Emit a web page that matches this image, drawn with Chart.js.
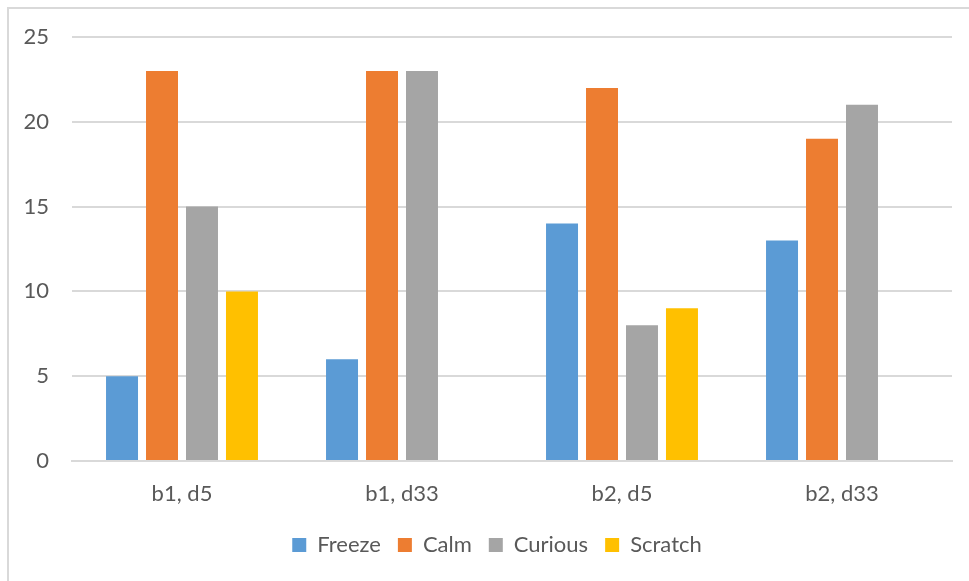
<!DOCTYPE html>
<html>
<head>
<meta charset="utf-8">
<script src="https://cdn.jsdelivr.net/npm/chart.js@4"></script>
<style>
  html, body { margin: 0; padding: 0; background: #fff; overflow: hidden; }
  #frame { position: absolute; left: 7px; top: 7px; width: 1000px; height: 640px; border: 2px solid #d9d9d9; box-sizing: border-box; }
  #grafico { position: absolute; left: 0; top: 0; }
</style>
</head>
<body>
<div id="frame"></div>
<canvas id="grafico" width="969" height="581"></canvas>
<script>
const ctx = document.getElementById('grafico');

const categories = ['b1, d5', 'b1, d33', 'b2, d5', 'b2, d33'];
const freeze = [5, 6, 14, 13];
const calm = [23, 23, 22, 19];
const curious = [15, 23, 8, 21];
const scratch = [10, 0, 9, 0];
const yTicks = [0, 5, 10, 15, 20, 25];

const textColor = '#595959';
const gridColor = '#d9d9d9';
const font = { family: 'Lato', size: 22 };

// the excel frame is wider than the picture, so its legend sits a bit right of centre
const shiftLegend = {
    id: 'shiftLegend',
    afterLayout(chart) {
        chart.legend.left += 21;
        chart.legend.right += 21;
    }
};

new Chart(ctx, {
    type: 'bar',
    data: {
        labels: categories,
        datasets: [
            { label: 'Freeze', data: freeze, backgroundColor: '#5b9bd5' },
            { label: 'Calm', data: calm, backgroundColor: '#ed7d31' },
            { label: 'Curious', data: curious, backgroundColor: '#a5a5a5' },
            { label: 'Scratch', data: scratch, backgroundColor: '#ffc000' }
        ]
    },
    options: {
        responsive: false,
        animation: false,
        categoryPercentage: 0.727,
        barPercentage: 0.8,
        layout: { padding: { left: 0, right: 17, top: 37, bottom: 15 } },
        plugins: {
            tooltip: { enabled: false },
            legend: {
                position: 'bottom',
                labels: {
                    color: textColor,
                    font: font,
                    boxWidth: 14,
                    boxHeight: 14,
                    padding: 17
                }
            }
        },
        scales: {
            x: {
                grid: { display: false, drawTicks: false },
                border: { color: gridColor, width: 2 },
                ticks: { color: textColor, font: font, padding: 20 },
                afterFit: function (scale) { scale.height = 56; }
            },
            y: {
                min: 0,
                max: 25,
                afterBuildTicks: function (scale) {
                    scale.ticks = yTicks.map(v => ({ value: v }));
                },
                grid: { color: gridColor, lineWidth: 2, drawTicks: false },
                border: { display: false },
                ticks: { color: textColor, font: font, padding: 23 },
                afterFit: function (scale) { scale.width = 72; }
            }
        }
    },
    plugins: [shiftLegend]
});
</script>
</body>
</html>
